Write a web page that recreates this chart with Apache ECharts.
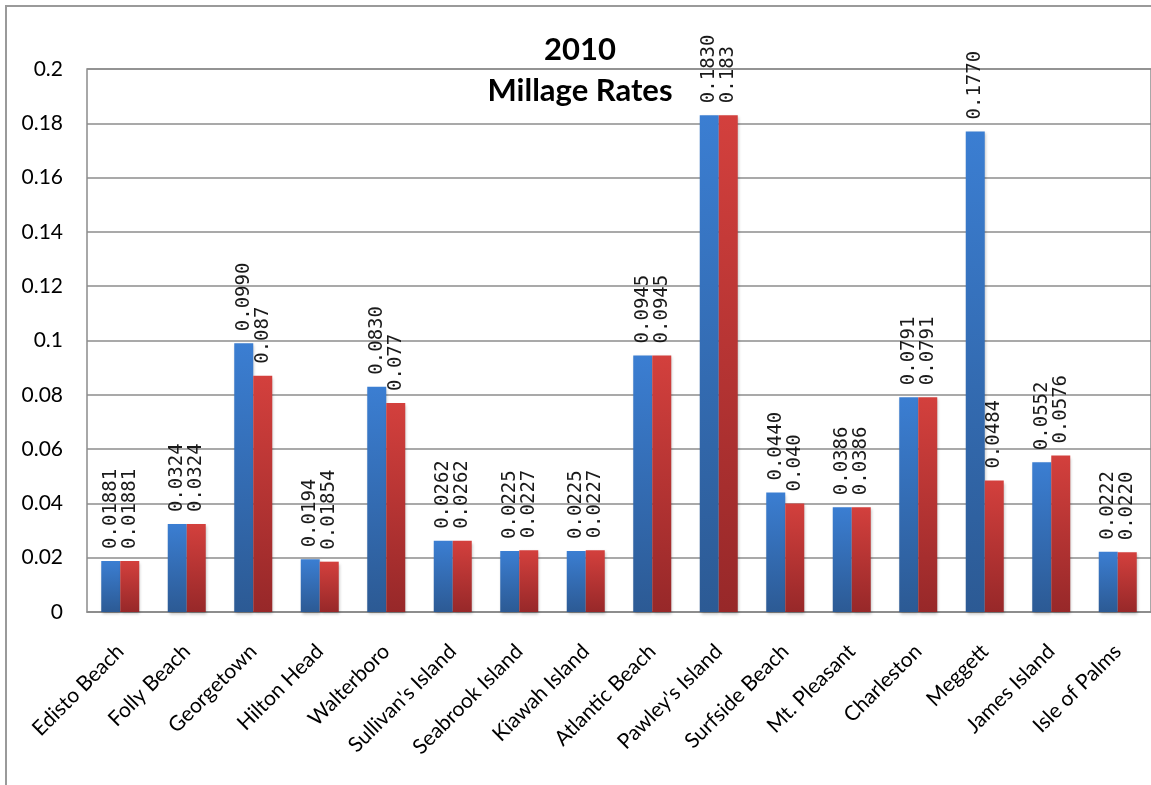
<!DOCTYPE html>
<html>
<head>
<meta charset="utf-8">
<title>2010 Millage Rates</title>
<script src="https://cdn.jsdelivr.net/npm/echarts@6/dist/echarts.min.js"></script>
<style>
  html, body { margin: 0; padding: 0; background: #fff; }
  #chart { width: 1151px; height: 785px; }
</style>
</head>
<body>
<div id="chart"></div>
<script>
// Towns along the South Carolina coast
const towns = [
  'Edisto Beach', 'Folly Beach', 'Georgetown', 'Hilton Head', 'Walterboro',
  "Sullivan's Island", 'Seabrook Island', 'Kiawah Island', 'Atlantic Beach',
  "Pawley's Island", 'Surfside Beach', 'Mt. Pleasant', 'Charleston', 'Meggett',
  'James Island', 'Isle of Palms'
];

// Millage rates, kept as written so the printed label and bar height agree
const ratesA = [
  '0.01881', '0.0324', '0.0990', '0.0194', '0.0830', '0.0262', '0.0225', '0.0225',
  '0.0945', '0.1830', '0.0440', '0.0386', '0.0791', '0.1770', '0.0552', '0.0222'
];
const ratesB = [
  '0.01881', '0.0324', '0.087', '0.01854', '0.077', '0.0262', '0.0227', '0.0227',
  '0.0945', '0.183', '0.040', '0.0386', '0.0791', '0.0484', '0.0576', '0.0220'
];

const yTicks = ['0', '0.02', '0.04', '0.06', '0.08', '0.1', '0.12', '0.14', '0.16', '0.18', '0.2'];

const toData = arr => arr.map(s => ({ value: parseFloat(s), text: s }));

function gradient(top, bottom) {
  return new echarts.graphic.LinearGradient(0, 0, 0, 1, [
    { offset: 0, color: top },
    { offset: 1, color: bottom }
  ]);
}

const labelStyle = {
  show: true,
  position: 'top',
  rotate: 90,
  align: 'left',
  verticalAlign: 'middle',
  distance: 12,
  fontFamily: 'DejaVu Sans Mono',
  fontSize: 19,
  color: '#1a1a1a',
  formatter: p => p.data.text
};

const chart = echarts.init(document.getElementById('chart'), null, { renderer: 'canvas' });

chart.setOption({
  backgroundColor: '#ffffff',
  animation: false,
  title: [
    {
      text: '2010',
      left: 575, top: 29, textAlign: 'center',
      textStyle: { fontFamily: 'Lato', fontWeight: 'bold', fontSize: 31, color: '#000' }
    },
    {
      text: 'Millage Rates',
      left: 575, top: 70, textAlign: 'center',
      textStyle: { fontFamily: 'Lato', fontWeight: 'bold', fontSize: 31, color: '#000' }
    }
  ],
  graphic: [
    {
      type: 'rect',
      shape: { x: 6, y: 6, width: 1160, height: 800 },
      style: { fill: 'none', stroke: '#9a9a9a', lineWidth: 2 },
      silent: true
    }
  ],
  grid: {
    left: 87, top: 69, width: 1064, bottom: 173,
    show: true, borderColor: '#8c8c8c', borderWidth: 1.5, backgroundColor: 'transparent'
  },
  xAxis: {
    type: 'category',
    data: towns,
    axisLine: { lineStyle: { color: '#8c8c8c', width: 1.5 } },
    axisTick: { show: false },
    axisLabel: {
      rotate: 45, interval: 0, margin: 36,
      fontFamily: 'Lato', fontSize: 21, color: '#000'
    }
  },
  yAxis: {
    type: 'value',
    min: 0, max: 0.2, interval: 0.02,
    axisLine: { show: false },
    axisTick: { show: false },
    splitLine: { lineStyle: { color: '#8c8c8c', width: 1.5 } },
    axisLabel: {
      margin: 24,
      fontFamily: 'Lato', fontSize: 21, color: '#000',
      formatter: (v, i) => yTicks[i]
    }
  },
  series: [
    {
      type: 'bar',
      data: toData(ratesA),
      barWidth: 19,
      barGap: '0%',
      itemStyle: {
        color: gradient('#3b7ed2', '#2c5a94'),
        shadowColor: 'rgba(0,0,0,0.25)', shadowBlur: 3, shadowOffsetX: 1, shadowOffsetY: 2
      },
      label: labelStyle
    },
    {
      type: 'bar',
      data: toData(ratesB),
      barWidth: 19,
      barGap: '0%',
      itemStyle: {
        color: gradient('#d3403d', '#972829'),
        shadowColor: 'rgba(0,0,0,0.25)', shadowBlur: 3, shadowOffsetX: 1, shadowOffsetY: 2
      },
      label: labelStyle
    }
  ]
});
</script>
</body>
</html>
